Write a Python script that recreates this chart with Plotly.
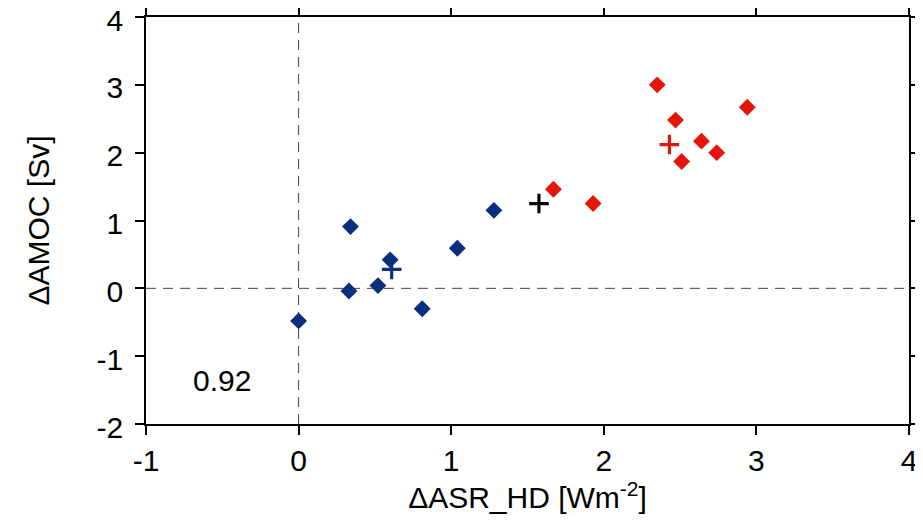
import plotly.graph_objects as go

# Data
blue_x = [0.00, 0.34, 0.33, 0.52, 0.60, 0.81, 1.04, 1.28]
blue_y = [-0.48, 0.91, -0.04, 0.04, 0.42, -0.30, 0.59, 1.15]
blue_mean_x = [0.61]
blue_mean_y = [0.28]

red_x = [2.35, 2.94, 2.47, 2.64, 2.74, 2.51, 1.67, 1.93]
red_y = [3.00, 2.67, 2.48, 2.17, 2.00, 1.87, 1.46, 1.25]
red_mean_x = [2.43]
red_mean_y = [2.12]

all_mean_x = [1.575]
all_mean_y = [1.25]

corr_text = "0.92"
x_ticks = [-1, 0, 1, 2, 3, 4]
x_labels = ["-1", "0", "1", "2", "3", "4"]
y_ticks = [-2, -1, 0, 1, 2, 3, 4]
y_labels = ["-2", "-1", "0", "1", "2", "3", "4"]

BLUE = "#0b2f7e"
RED = "#e3160b"
FONT = "Liberation Sans, Arial, sans-serif"
FS = 30

fig = go.Figure()

fig.add_trace(go.Scatter(x=blue_x, y=blue_y, mode="markers",
                         marker=dict(symbol="diamond", size=13, color=BLUE, line=dict(width=0))))
fig.add_trace(go.Scatter(x=red_x, y=red_y, mode="markers",
                         marker=dict(symbol="diamond", size=13, color=RED, line=dict(width=0))))
fig.add_trace(go.Scatter(x=blue_mean_x, y=blue_mean_y, mode="markers",
                         marker=dict(symbol="cross-thin", size=14, line=dict(width=3.2, color=BLUE))))
fig.add_trace(go.Scatter(x=red_mean_x, y=red_mean_y, mode="markers",
                         marker=dict(symbol="cross-thin", size=14, line=dict(width=3.2, color=RED))))
fig.add_trace(go.Scatter(x=all_mean_x, y=all_mean_y, mode="markers",
                         marker=dict(symbol="cross-thin", size=14, line=dict(width=3.2, color="black"))))

# zero reference lines
fig.add_shape(type="line", xref="x", yref="paper", x0=0, x1=0, y0=0, y1=1,
              line=dict(color="#444", width=1, dash="10px,7px"), layer="below")
fig.add_shape(type="line", xref="paper", yref="y", x0=0, x1=1, y0=0, y1=0,
              line=dict(color="#444", width=1, dash="10px,7px"), layer="below")

fig.add_annotation(x=-0.50, y=-1.36, text=corr_text, showarrow=False,
                   font=dict(size=FS, color="black", family=FONT))

axis_common = dict(showgrid=False, zeroline=False, showline=True, linecolor="black",
                   linewidth=1.5, mirror="ticks", ticks="outside", ticklen=9,
                   tickwidth=1.5, tickcolor="black", automargin=False,
                   ticklabeloverflow="allow",
                   tickfont=dict(size=FS, color="black", family=FONT))

fig.update_xaxes(range=[-1, 4], tickvals=x_ticks, ticktext=x_labels,
                 title=dict(text="ΔASR_HD [Wm<sup>-2</sup>]", font=dict(size=FS, color="black", family=FONT), standoff=6),
                 **axis_common)
fig.update_yaxes(range=[-2, 4], tickvals=y_ticks, ticktext=y_labels, ticklabelstandoff=6,
                 ticklabelshift=3,
                 title=dict(text="ΔAMOC [Sv]", font=dict(size=FS, color="black", family=FONT), standoff=38),
                 **axis_common)

# page adds an 8px body margin; size the figure so the plot lands where the reference has it
fig.update_layout(width=915, height=518, showlegend=False,
                  plot_bgcolor="white", paper_bgcolor="white",
                  margin=dict(l=138, r=14, t=9, b=102),
                  font=dict(family=FONT))

fig.write_html("out.html")
